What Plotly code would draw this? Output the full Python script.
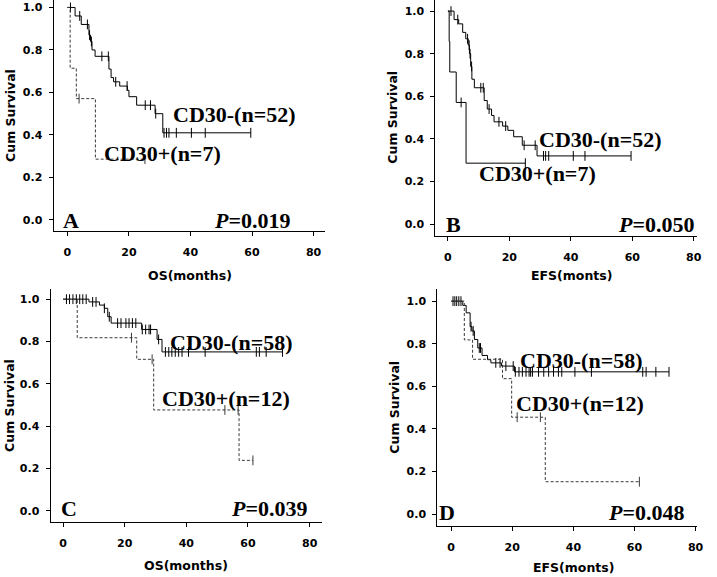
import numpy as np
import plotly.graph_objects as go

# ---------------- data ----------------
# Panel A: OS, CD30- (n=52) / CD30+ (n=7)
A_neg_t = [0, 2.5, 4.5, 7.0, 7.5, 8.0, 9.0, 13.5, 14.2, 15.0, 17.0, 19.5, 20.0, 22.5, 28.5, 31.0]
A_neg_s = [1.0, 0.96, 0.92, 0.87, 0.84, 0.80, 0.77, 0.71, 0.67, 0.65, 0.63, 0.61, 0.58, 0.54, 0.50, 0.41]
A_neg_c = [1.0, 4.0, 6.5, 7.2, 7.8, 11.2, 13.3, 15.7, 19.4, 25.3, 27.0, 28.7, 31.4, 32.2, 33.0, 35.4, 40.3, 44.8, 59.6]
A_pos_t = [0, 0.9, 2.9, 9.1]
A_pos_s = [1.0, 0.714, 0.571, 0.286]
A_pos_c = [3.8, 25.2]

# Panel B: EFS, CD30- (n=52) / CD30+ (n=7)
B_neg_t = [0, 2.0, 3.5, 4.8, 5.8, 6.6, 7.0, 7.4, 7.8, 8.6, 11.8, 12.8, 14.2, 15.0, 17.8, 19.5, 21.4, 24.2, 29.0]
B_neg_s = [1.0, 0.96, 0.94, 0.90, 0.87, 0.84, 0.80, 0.74, 0.68, 0.64, 0.58, 0.54, 0.51, 0.48, 0.46, 0.44, 0.41, 0.37, 0.32]
B_neg_c = [1.0, 3.2, 6.4, 6.9, 7.2, 7.7, 10.7, 11.5, 13.4, 16.6, 18.8, 24.8, 28.4, 31.1, 31.8, 32.8, 40.8, 44.6, 59.6]
B_pos_t = [0, 0.4, 0.6, 2.7, 5.9]
B_pos_s = [1.0, 0.857, 0.714, 0.571, 0.286]
B_pos_c = [4.3, 25.2]

# Panel C: OS, CD30- (n=58) / CD30+ (n=12)
C_neg_t = [0, 8.4, 11.8, 13.4, 14.5, 15.6, 25.5, 30.5, 32.1]
C_neg_s = [1.0, 0.987, 0.972, 0.957, 0.917, 0.887, 0.857, 0.81, 0.751]
C_neg_c = [1.1, 2.1, 3.2, 4.3, 5.4, 6.4, 7.5, 9.6, 10.7, 13.4, 15.0, 17.7, 18.8, 20.4, 21.4, 22.5, 23.6,
           25.7, 26.8, 27.9, 28.4, 31.0, 33.2, 34.3, 35.3, 36.4, 37.5, 38.6, 40.7, 46.1, 62.7, 63.7, 65.9, 71.2]
C_pos_t = [0, 4.6, 23.9, 29.4, 57.1]
C_pos_s = [1.0, 0.818, 0.716, 0.477, 0.239]
C_pos_c = [22.2, 28.9, 52.5, 56.8, 61.6]

# Panel D: EFS, CD30- (n=58) / CD30+ (n=12)
D_neg_t = [0, 3.8, 4.9, 6.2, 6.8, 7.6, 8.7, 10.1, 11.9, 13.0, 16.5, 20.7]
D_neg_s = [1.0, 0.98, 0.945, 0.88, 0.86, 0.82, 0.78, 0.745, 0.725, 0.71, 0.695, 0.668]
D_neg_c = [0.6, 1.2, 1.8, 2.5, 3.2, 6.5, 7.2, 9.2, 9.6, 14.6, 16.0, 17.9, 20.3, 21.0, 22.2, 23.3, 24.5,
           25.5, 26.0, 26.6, 28.6, 30.3, 31.9, 33.5, 35.1, 36.2, 40.5, 45.9, 62.7, 63.8, 67.0, 71.3]
D_pos_t = [0, 4.3, 7.0, 16.8, 19.8, 30.8]
D_pos_s = [1.0, 0.818, 0.727, 0.636, 0.455, 0.152]
D_pos_c = [21.6, 29.2, 61.6]

x_ticks = [0, 20, 40, 60, 80]
y_ticks = [0.0, 0.2, 0.4, 0.6, 0.8, 1.0]

labels = {
    "A": ("CD30-(n=52)", "CD30+(n=7)", "0.019", "OS(months)"),
    "B": ("CD30-(n=52)", "CD30+(n=7)", "0.050", "EFS(monts)"),
    "C": ("CD30-(n=58)", "CD30+(n=12)", "0.039", "OS(months)"),
    "D": ("CD30-(n=58)", "CD30+(n=12)", "0.048", "EFS(monts)"),
}

# ---------------- layout constants (pixels) ----------------
W, H = 717, 577
# panel box: left, right, top, bottom (px); x range; y range
panels = {
    "A": dict(box=(54, 328, 0, 231), xr=(-4.5, 83.8), yr=(-0.052, 1.035), ax=""),
    "B": dict(box=(439, 703, 0, 236), xr=(-4.1, 81.1), yr=(-0.056, 1.052), ax="2"),
    "C": dict(box=(51, 325, 289, 522), xr=(-4.05, 84.1), yr=(-0.052, 1.048), ax="3"),
    "D": dict(box=(441, 703, 289, 526), xr=(-4.54, 80.5), yr=(-0.056, 1.057), ax="4"),
}
# annotation centres in px: CD30-, CD30+, letter, P, ytitle, xtitle
ann_pos = {
    "A": [(236, 115), (164, 153), (72, 220), (255, 220), (11, 115), (192, 275)],
    "B": [(606, 140), (542, 173), (457, 224), (662, 224), (395, 117), (576, 275)],
    "C": [(233, 342), (228, 398), (70, 508), (272, 508), (9, 405), (188, 565)],
    "D": [(586, 360), (585, 403), (451, 512), (652, 512), (397, 407), (578, 567)],
}
dashed = {"A": True, "B": False, "C": True, "D": True}

data = {
    "A": (A_neg_t, A_neg_s, A_neg_c, A_pos_t, A_pos_s, A_pos_c),
    "B": (B_neg_t, B_neg_s, B_neg_c, B_pos_t, B_pos_s, B_pos_c),
    "C": (C_neg_t, C_neg_s, C_neg_c, C_pos_t, C_pos_s, C_pos_c),
    "D": (D_neg_t, D_neg_s, D_neg_c, D_pos_t, D_pos_s, D_pos_c),
}


def px2paper(x, y):
    return x / W, 1 - y / H


def surv_at(ts, ss, t):
    i = np.searchsorted(np.array(ts), t, side="right") - 1
    return ss[max(i, 0)]


fig = go.Figure()
annotations = []
TICKFONT = dict(family="DejaVu Sans", size=11, color="black", weight="bold")
TITLEFONT = dict(family="DejaVu Sans", size=12.5, color="black", weight="bold")
SERIF = dict(family="Liberation Serif", size=22, color="black")

for key, p in panels.items():
    nt, ns, nc, pt, ps, pc = data[key]
    ax = p["ax"]
    xa, ya = "x" + ax, "y" + ax
    for ts, ss, cs, is_pos in ((nt, ns, nc, False), (pt, ps, pc, True)):
        tend = max(max(cs), ts[-1])
        xs = list(ts) + [tend]
        ys = list(ss) + [ss[-1]]
        if is_pos and dashed[key]:
            line = dict(color="#3a3a3a", width=1, dash="3px,2px")
            mcol = "#3a3a3a"
        else:
            line = dict(color="black", width=1)
            mcol = "black"
        fig.add_trace(go.Scatter(x=xs, y=ys, mode="lines", line=line, line_shape="hv",
                                 xaxis=xa, yaxis=ya, showlegend=False, hoverinfo="skip"))
        cy = [surv_at(ts, ss, c) for c in cs]
        fig.add_trace(go.Scatter(x=cs, y=cy, mode="markers",
                                 marker=dict(symbol="line-ns-open", size=7, color=mcol,
                                             line=dict(color=mcol, width=1)),
                                 xaxis=xa, yaxis=ya, showlegend=False, hoverinfo="skip"))
    L, R, T, B = p["box"]
    common = dict(showline=True, linecolor="black", linewidth=1, ticks="outside", ticklen=4,
                  tickcolor="black", tickwidth=1, showgrid=False, zeroline=False,
                  tickfont=TICKFONT, fixedrange=True)
    fig.layout["xaxis" + ax] = dict(domain=[L / W, R / W], range=list(p["xr"]), anchor=ya,
                                    tickvals=x_ticks, ticklabelstandoff=7, **common)
    fig.layout["yaxis" + ax] = dict(domain=[1 - B / H, 1 - T / H], range=list(p["yr"]), anchor=xa,
                                    tickvals=y_ticks, tickformat=".1f", ticklabelstandoff=4, **common)

    neg_lab, pos_lab, pval, xtitle = labels[key]
    pos = ann_pos[key]
    texts = [
        (f"<b>{neg_lab}</b>", SERIF, 0),
        (f"<b>{pos_lab}</b>", SERIF, 0),
        (f"<b>{key}</b>", SERIF, 0),
        (f"<b><i>P</i>={pval}</b>", SERIF, 0),
        ("Cum Survival", TITLEFONT, -90),
        (xtitle, TITLEFONT, 0),
    ]
    for (txt, font, ang), (x, y) in zip(texts, pos):
        xp, yp = px2paper(x, y)
        annotations.append(dict(text=txt, x=xp, y=yp, xref="paper", yref="paper",
                                xanchor="center", yanchor="middle", showarrow=False,
                                font=font, textangle=ang))

fig.update_layout(width=W, height=H, margin=dict(l=0, r=0, t=0, b=0),
                  paper_bgcolor="white", plot_bgcolor="white", annotations=annotations)

fig.write_html("out.html", config={"displayModeBar": False},
               post_script="document.body.style.margin='0';document.body.style.overflow='hidden';")
